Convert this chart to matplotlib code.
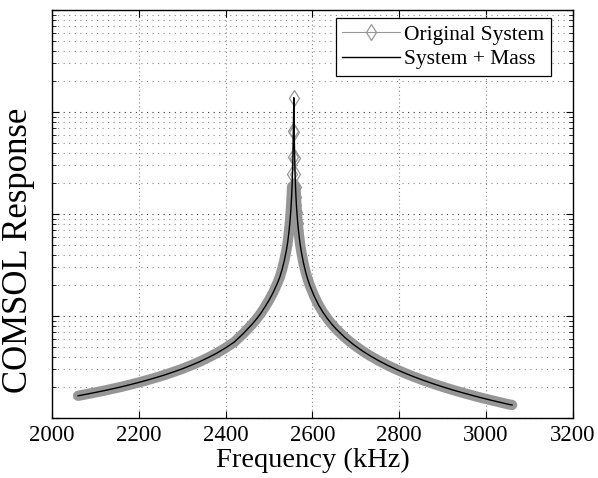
import numpy as np
import matplotlib
matplotlib.use('Agg')
import matplotlib.pyplot as plt
from matplotlib.ticker import LogLocator, NullFormatter

# frequency sweep (kHz)
freq_khz = [2060, 2080, 2100, 2120, 2140, 2160, 2180, 2200, 2220, 2240,
            2260, 2280, 2300, 2320, 2340, 2360, 2380, 2400, 2420, 2440,
            2460, 2470, 2480, 2490, 2500, 2510, 2520, 2525, 2530, 2535,
            2540, 2543, 2546, 2548, 2550, 2551, 2552, 2553, 2554, 2555,
            2556, 2557, 2558, 2559, 2560, 2561, 2562, 2563, 2564, 2566,
            2568, 2571, 2574, 2579, 2584, 2589, 2594, 2604, 2614, 2624,
            2634, 2644, 2654, 2674, 2694, 2714, 2734, 2754, 2774, 2794,
            2814, 2834, 2854, 2874, 2894, 2914, 2934, 2954, 2974, 2994,
            3014, 3034, 3054, 3060]

# response, as log10 of the (unlabelled) COMSOL magnitude
log_resp = [0.218, 0.234, 0.251, 0.268, 0.287, 0.306, 0.327, 0.349, 0.372, 0.397,
            0.423, 0.452, 0.482, 0.516, 0.552, 0.593, 0.637, 0.688, 0.745, 0.825,
            0.915, 0.965, 1.020, 1.085, 1.155, 1.235, 1.330, 1.385, 1.455, 1.540,
            1.645, 1.725, 1.830, 1.917, 2.026, 2.093, 2.172, 2.269, 2.394, 2.560,
            2.810, 3.140, 2.800, 2.550, 2.390, 2.268, 2.171, 2.092, 2.024, 1.915,
            1.828, 1.722, 1.638, 1.526, 1.436, 1.362, 1.299, 1.195, 1.109, 1.038,
            0.977, 0.923, 0.875, 0.792, 0.722, 0.661, 0.607, 0.559, 0.515, 0.475,
            0.438, 0.404, 0.372, 0.342, 0.314, 0.287, 0.262, 0.238, 0.215, 0.193,
            0.172, 0.152, 0.132, 0.128]

series_labels = ['Original System', 'System + Mass']
x_ticks = [2000, 2200, 2400, 2600, 2800, 3000, 3200]

plt.rcParams['font.family'] = ['Liberation Serif', 'DejaVu Serif']

f = np.array(freq_khz)
lr = np.array(log_resp)
resp = 10 ** lr

fig = plt.figure(figsize=(5.98, 4.78), dpi=100)
ax = fig.add_axes([0.087, 0.1255, 0.871, 0.8535])

grey = '#969696'
# dense overlapping markers in the original read as a solid grey band
band = np.ma.masked_where(lr > 2.3, resp)
ax.plot(f, band, color=grey, lw=7.4, solid_capstyle='round', zorder=2)
# separate diamonds only show up around the sharp peak
ax.plot(f, resp, color=grey, lw=0.8, marker='d', markersize=8.5,
        markevery=list(lr > 1.9), mfc='none', mec=grey, mew=0.9,
        label=series_labels[0], zorder=3)
ax.plot(f, resp, color='black', lw=1.0, label=series_labels[1], zorder=4)

ax.set_yscale('log')
ax.set_xlim(2000, 3200)
ax.set_ylim(1, 1e4)
ax.set_xticks(x_ticks)
ax.set_xticklabels([str(t) for t in x_ticks], fontsize=16.5)
ax.yaxis.set_major_locator(LogLocator(base=10, numticks=10))
ax.yaxis.set_minor_locator(LogLocator(base=10, subs=np.arange(2, 10), numticks=20))
ax.yaxis.set_major_formatter(NullFormatter())
ax.yaxis.set_minor_formatter(NullFormatter())

ax.tick_params(axis='both', which='both', direction='in', top=True, right=True)
ax.tick_params(axis='both', which='major', length=5, width=0.8, pad=5)
ax.tick_params(axis='y', which='minor', length=3, width=0.6)

# MATLAB style dotted grid
ax.grid(True, axis='y', which='major', color='#333333', lw=0.8, linestyle=(0, (1, 4)))
ax.grid(True, axis='y', which='minor', color='#8a8a8a', lw=0.8, linestyle=(0, (1, 4)))
ax.grid(True, axis='x', which='major', color='#8a8a8a', lw=0.8, linestyle=(0, (1, 2.5)))

for s in ax.spines.values():
    s.set_linewidth(1.0)

ax.set_xlabel('Frequency (kHz)', fontsize=20.5, labelpad=1)
ax.set_ylabel('COMSOL Response', fontsize=25)
ax.yaxis.set_label_coords(-0.032, 0.41)

leg = ax.legend(loc='upper right', bbox_to_anchor=(0.958, 0.98), fontsize=15.5,
                frameon=True, fancybox=False, edgecolor='black', framealpha=1,
                borderpad=0.3, handlelength=2.7, handletextpad=0.2,
                labelspacing=0.2, borderaxespad=0)
leg.get_frame().set_linewidth(0.9)

fig.savefig('out.png', dpi=100)
